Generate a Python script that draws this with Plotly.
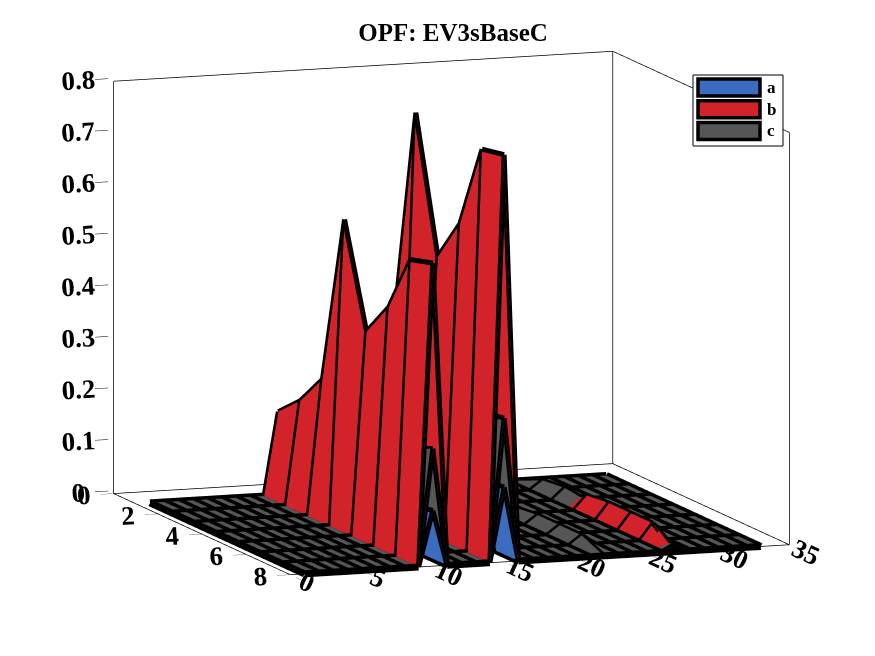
import numpy as np
import plotly.graph_objects as go

# ---------------- data ----------------
bus = list(range(1, 34))        # x : bus index 1..33
period = list(range(1, 9))      # y : 1..8

# phase a (blue)
a_bus10 = [0.03, 0.04, 0.05, 0.09, 0.07, 0.08, 0.10, 0.108]
a_bus15 = [0.05, 0.06, 0.07, 0.14, 0.10, 0.11, 0.14, 0.145]
a_bus27 = [0, 0, 0, 0, 0, 0, 0, 0.01]
# phase b (red)
b_bus10 = [0.162, 0.203, 0.264, 0.594, 0.396, 0.463, 0.575, 0.588]
b_bus15 = [0.21, 0.26, 0.36, 0.793, 0.533, 0.617, 0.781, 0.790]
b_bus27 = [0, 0, 0, 0.03, 0.035, 0.035, 0.035, 0]
# phase c (gray)
c_bus10 = [0.05, 0.07, 0.09, 0.20, 0.14, 0.16, 0.21, 0.228]
c_bus15 = [0.07, 0.09, 0.12, 0.28, 0.19, 0.21, 0.27, 0.279]
c_bus22 = [0, 0, 0, 0.015, 0.02, 0.02, 0.02, 0]
c_bus27 = [0, 0.02, 0.025, 0.02, 0, 0, 0, 0.015]

x_ticks = [0, 5, 10, 15, 20, 25, 30, 35]
y_ticks = [0, 2, 4, 6, 8]
z_ticks = [0, 0.1, 0.2, 0.3, 0.4, 0.5, 0.6, 0.7, 0.8]
x_range = [0, 35]
y_range = [0, 8]
z_range = [0, 0.8]

phase_names = ["a", "b", "c"]
phase_colors = ["#3b6cc0", "#d2232a", "#565656"]


def build(cols):
    z = np.zeros((len(period), len(bus)))
    for b, vals in cols.items():
        z[:, bus.index(b)] = vals
    return z


Z = [
    build({10: a_bus10, 15: a_bus15, 27: a_bus27}),
    build({10: b_bus10, 15: b_bus15, 27: b_bus27}),
    build({10: c_bus10, 15: c_bus15, 22: c_bus22, 27: c_bus27}),
]

fig = go.Figure()
for z, col, name in zip(Z, phase_colors, phase_names):
    fig.add_trace(go.Surface(
        x=bus, y=period, z=z, name=name,
        colorscale=[[0, col], [1, col]], showscale=False,
        lighting=dict(ambient=1, diffuse=0, specular=0, roughness=1, fresnel=0),
        contours=dict(x=dict(highlight=False), y=dict(highlight=False), z=dict(highlight=False)),
        hoverinfo="skip",
    ))

# surface mesh edges (thick black, as MATLAB EdgeColor); flat (z=0) edges drawn heavier
for z in Z:
    seg = {"flat": ([], [], []), "raised": ([], [], [])}

    def add(p, q):
        key = "flat" if (p[2] == 0 and q[2] == 0) else "raised"
        xs, ys, zs = seg[key]
        xs += [p[0], q[0], None]
        ys += [p[1], q[1], None]
        zs += [p[2], q[2], None]

    for j, yv in enumerate(period):
        for i in range(len(bus) - 1):
            add((bus[i], yv, z[j, i]), (bus[i + 1], yv, z[j, i + 1]))
    for i, xv in enumerate(bus):
        for j in range(len(period) - 1):
            add((xv, period[j], z[j, i]), (xv, period[j + 1], z[j + 1, i]))
    for key, w in (("flat", 14), ("raised", 10)):
        xs, ys, zs = seg[key]
        fig.add_trace(go.Scatter3d(x=xs, y=ys, z=zs, mode="lines",
                                   line=dict(color="black", width=w),
                                   hoverinfo="skip", showlegend=False))

# box outline (back planes like MATLAB)
x0, x1 = x_range
y0, y1 = y_range
z0, z1 = z_range
edges = [
    ((x0, y0, z0), (x1, y0, z0)), ((x1, y0, z0), (x1, y1, z0)),
    ((x1, y1, z0), (x0, y1, z0)), ((x0, y1, z0), (x0, y0, z0)),
    ((x0, y0, z0), (x0, y0, z1)), ((x1, y0, z0), (x1, y0, z1)),
    ((x1, y1, z0), (x1, y1, z1)),
    ((x0, y0, z1), (x1, y0, z1)), ((x1, y0, z1), (x1, y1, z1)),
]
ex, ey, ez = [], [], []
for p, q in edges:
    ex += [p[0], q[0], None]
    ey += [p[1], q[1], None]
    ez += [p[2], q[2], None]
fig.add_trace(go.Scatter3d(x=ex, y=ey, z=ez, mode="lines",
                           line=dict(color="black", width=1.5),
                           hoverinfo="skip", showlegend=False))

tickfont = dict(family="Liberation Serif", size=18, color="black", weight="bold")
axis_common = dict(showgrid=False, showbackground=False, zeroline=False,
                   showline=False, ticks="outside", ticklen=14, tickcolor="black",
                   tickfont=tickfont, title=dict(text=""), showspikes=False)

s = 1.74
fig.update_layout(
    width=875, height=656,
    margin=dict(l=0, r=0, t=0, b=0),
    paper_bgcolor="white",
    showlegend=False,
    title=dict(text="<b>OPF: EV3sBaseC</b>", x=445 / 875, y=1 - 24 / 656, xanchor="center", yanchor="middle",
               font=dict(family="Liberation Serif", size=25, color="black")),
    scene=dict(
        domain=dict(x=[0.014, 1.0], y=[0.07, 1.0]),
        xaxis=dict(range=x_range, tickvals=x_ticks, **axis_common),
        yaxis=dict(autorange="reversed", autorangeoptions=dict(include=y_range),
                   tickvals=y_ticks, **axis_common),
        zaxis=dict(range=z_range, tickvals=z_ticks,
                   ticktext=[("%g" % v) for v in z_ticks], **axis_common),
        aspectmode="manual",
        aspectratio=dict(x=1 * s, y=1.04 * s, z=0.788 * s),
        camera=dict(eye=dict(x=-1.005, y=-2.781, z=0.498), up=dict(x=0, y=0, z=1),
                    center=dict(x=0, y=0, z=0), projection=dict(type="orthographic")),
    ),
)

# manual legend (MATLAB style patches)
leg_box = (685, 67, 775, 138)
W, H = 875, 656


def px(x, y):
    return x / W, 1 - y / H


shapes = []
bx0, by0 = px(leg_box[0], leg_box[1])
bx1, by1 = px(leg_box[2], leg_box[3])
shapes.append(dict(type="rect", xref="paper", yref="paper", x0=bx0, y0=by0, x1=bx1, y1=by1,
                   line=dict(color="black", width=1), fillcolor="white"))
annotations = []
for i, (name, col) in enumerate(zip(phase_names, phase_colors)):
    top = 71 + i * 21.7
    sx0, sy0 = px(690, top)
    sx1, sy1 = px(752, top + 17)
    shapes.append(dict(type="rect", xref="paper", yref="paper", x0=sx0, y0=sy0, x1=sx1, y1=sy1,
                       line=dict(color="black", width=3.5), fillcolor=col))
    tx, ty = px(757, top + 8.5)
    annotations.append(dict(text="<b>%s</b>" % name, xref="paper", yref="paper", x=tx, y=ty,
                            xanchor="left", yanchor="middle", showarrow=False,
                            font=dict(family="Liberation Serif", size=17, color="black")))
fig.update_layout(shapes=shapes, annotations=annotations)

fig.write_html("out.html")
